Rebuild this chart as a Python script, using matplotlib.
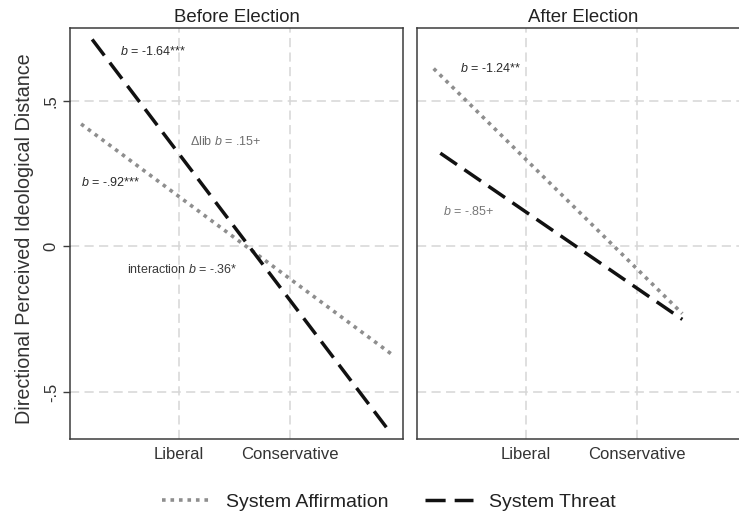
import matplotlib
matplotlib.use("Agg")
import matplotlib.pyplot as plt
from matplotlib.lines import Line2D

plt.rcParams["font.family"] = ["Liberation Sans", "DejaVu Sans"]
plt.rcParams["mathtext.fontset"] = "custom"
plt.rcParams["mathtext.it"] = "Liberation Sans:italic"
plt.rcParams["mathtext.rm"] = "Liberation Sans"
plt.rcParams["axes.unicode_minus"] = False

# Predicted lines (x: ideology position, Liberal = 1, Conservative = 2)
panels = ["Before Election", "After Election"]
affirm_x = [[0.12, 2.92], [0.17, 2.41]]
affirm_y = [[0.42, -0.37], [0.61, -0.23]]
threat_x = [[0.22, 2.87], [0.23, 2.41]]
threat_y = [[0.71, -0.62], [0.32, -0.25]]

x_ticks = [1, 2]
x_labels = ["Liberal", "Conservative"]
y_ticks = [0.5, 0, -0.5]
y_labels = [".5", "0", "-.5"]

# Slope annotations: (panel, x, y, text, colour)
notes = [
    (0, 0.47, 0.67, r"$b$ = -1.64***", "#2b2b2b"),
    (0, 1.10, 0.36, r"Δlib $b$ = .15+", "#6e6e6e"),
    (0, 0.12, 0.22, r"$b$ = -.92***", "#2b2b2b"),
    (0, 0.53, -0.08, r"interaction $b$ = -.36*", "#3a3a3a"),
    (1, 0.41, 0.61, r"$b$ = -1.24**", "#2b2b2b"),
    (1, 0.25, 0.12, r"$b$ = -.85+", "#777777"),
]

AFF_COLOR = "#8e8e8e"
THR_COLOR = "#111111"
SPINE = "#3c3c3c"
AFF_DASH = (1, 1.35)
THR_DASH = (5.8, 2.6)

fig = plt.figure(figsize=(7.39, 5.14), dpi=100)
positions = [[0.0947, 0.146, 0.4506, 0.80], [0.5643, 0.146, 0.4506, 0.80]]
axes = [fig.add_axes(p) for p in positions]

for i, ax in enumerate(axes):
    ax.set_xlim(0.02, 3.02)
    ax.set_ylim(-0.66, 0.75)
    for v in x_ticks:
        ax.axvline(v, color="#d6d6d6", lw=1.1, dashes=(6, 3.5), zorder=0)
    for v in y_ticks:
        ax.axhline(v, color="#d6d6d6", lw=1.1, dashes=(6, 3.5), zorder=0)
    ax.plot(affirm_x[i], affirm_y[i], color=AFF_COLOR, lw=2.6,
            dashes=AFF_DASH, dash_capstyle="butt", zorder=3)
    ax.plot(threat_x[i], threat_y[i], color=THR_COLOR, lw=2.5,
            dashes=THR_DASH, dash_capstyle="butt", zorder=4)
    ax.set_title(panels[i], fontsize=13.4, color="#222222", pad=4)
    ax.set_xticks(x_ticks)
    ax.set_xticklabels(x_labels, fontsize=12, color="#333333")
    ax.tick_params(axis="x", length=0, pad=6)
    ax.set_yticks(y_ticks)
    if i == 0:
        ax.set_yticklabels(y_labels, fontsize=12, color="#333333",
                           rotation=90, va="center")
        ax.tick_params(axis="y", length=5, width=1, color=SPINE, pad=3)
        ax.set_ylabel("Directional Perceived Ideological Distance",
                      fontsize=14.2, color="#333333")
        ax.yaxis.set_label_coords(-0.108, 0.487)
    else:
        ax.tick_params(axis="y", length=0, labelleft=False)
    for s in ax.spines.values():
        s.set_color(SPINE)
        s.set_linewidth(1.1)

for p, x, y, t, c in notes:
    axes[p].text(x, y, t, fontsize=9, color=c, ha="left", va="center", zorder=5)

handles = [
    Line2D([], [], color=AFF_COLOR, lw=2.6, dashes=AFF_DASH),
    Line2D([], [], color=THR_COLOR, lw=2.5, dashes=THR_DASH),
]
fig.legend(handles, ["System Affirmation", "System Threat"], loc="center",
           bbox_to_anchor=(0.526, 0.023), ncol=2, frameon=False, fontsize=14,
           handlelength=2.5, handletextpad=0.82, columnspacing=1.85,
           labelcolor="#222222")

fig.savefig("out.png", dpi=100)
